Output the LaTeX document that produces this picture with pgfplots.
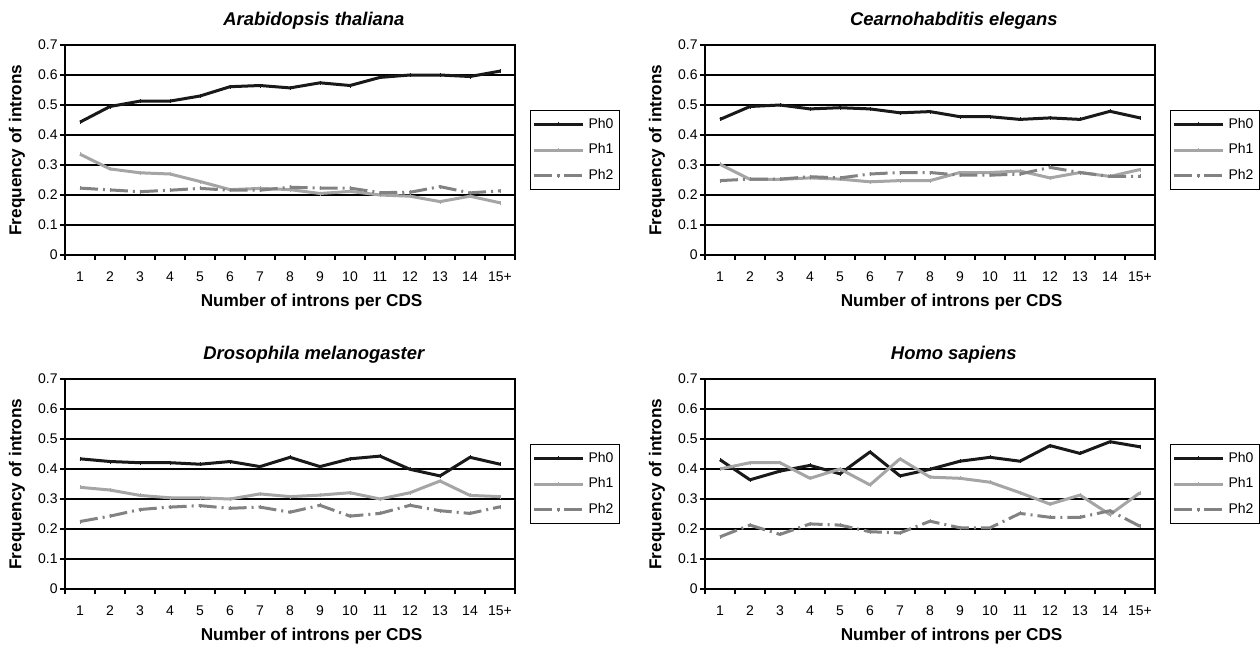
\documentclass[border=0pt]{standalone}
\usepackage{fontspec}
\setmainfont{Liberation Sans}
\usepackage{pgfplots}
\usepackage{pgfplotstable}
\pgfplotsset{compat=1.18}

\definecolor{phzero}{RGB}{25,25,25}
\definecolor{phone}{RGB}{165,165,165}
\definecolor{phtwo}{RGB}{130,130,130}

% columns: category, Ph0, Ph1, Ph2
\pgfplotstableread{
x ph0 ph1 ph2
1 0.443 0.336 0.223
2 0.495 0.287 0.217
3 0.513 0.274 0.211
4 0.513 0.270 0.216
5 0.530 0.245 0.222
6 0.561 0.218 0.216
7 0.565 0.222 0.216
8 0.557 0.218 0.226
9 0.574 0.205 0.223
10 0.565 0.212 0.223
11 0.592 0.200 0.208
12 0.600 0.196 0.209
13 0.600 0.178 0.228
14 0.595 0.196 0.207
15 0.613 0.174 0.214
}\arabidopsis
\pgfplotstableread{
x ph0 ph1 ph2
1 0.452 0.302 0.248
2 0.495 0.252 0.253
3 0.500 0.252 0.253
4 0.487 0.257 0.261
5 0.491 0.253 0.257
6 0.487 0.244 0.270
7 0.474 0.248 0.275
8 0.478 0.248 0.275
9 0.461 0.275 0.266
10 0.461 0.275 0.266
11 0.452 0.280 0.270
12 0.457 0.257 0.292
13 0.452 0.275 0.275
14 0.479 0.262 0.262
15 0.457 0.285 0.262
}\elegans
\pgfplotstableread{
x ph0 ph1 ph2
1 0.434 0.339 0.225
2 0.425 0.330 0.243
3 0.421 0.312 0.265
4 0.421 0.304 0.273
5 0.416 0.304 0.278
6 0.425 0.300 0.269
7 0.408 0.317 0.273
8 0.439 0.308 0.256
9 0.408 0.313 0.279
10 0.434 0.321 0.243
11 0.443 0.300 0.252
12 0.399 0.321 0.279
13 0.377 0.360 0.261
14 0.439 0.312 0.252
15 0.416 0.308 0.274
}\drosophila
\pgfplotstableread{
x ph0 ph1 ph2
1 0.431 0.400 0.174
2 0.364 0.421 0.213
3 0.393 0.421 0.182
4 0.412 0.369 0.217
5 0.384 0.400 0.213
6 0.457 0.347 0.191
7 0.377 0.434 0.187
8 0.399 0.373 0.226
9 0.426 0.369 0.204
10 0.439 0.356 0.204
11 0.426 0.321 0.252
12 0.478 0.283 0.239
13 0.452 0.313 0.239
14 0.491 0.248 0.261
15 0.474 0.321 0.209
}\homo

\pgfplotsset{
  panel/.style={
    scale only axis, width=225pt, height=105pt,
    xmin=0.5, xmax=15.5, ymin=0, ymax=0.7,
    xtick={1,...,15},
    xticklabels={1,2,3,4,5,6,7,8,9,10,11,12,13,14,15+},
    every major x tick/.style={draw=none},
    minor xtick={0.5,1.5,...,15.5},
    ytick={0,0.1,0.2,0.3,0.4,0.5,0.6,0.7},
    yticklabels={0,0.1,0.2,0.3,0.4,0.5,0.6,0.7},
    tick align=outside, tick pos=left,
    major tick length=2.5pt, minor tick length=2.5pt,
    every tick/.style={black, line width=0.6pt},
    ymajorgrids, grid style={black, line width=0.6pt},
    axis line style={black, line width=0.75pt},
    tick label style={font=\fontsize{7}{8}\selectfont},
    xticklabel style={anchor=base, yshift=-10.5pt},
    yticklabel style={anchor=east, inner sep=0pt, xshift=-1pt},
    xlabel={Number of introns per CDS},
    ylabel={Frequency of introns},
    xlabel style={at={(axis description cs:0.548,-0.222)}, anchor=center,
                  font=\fontsize{8.6}{10}\selectfont\bfseries},
    ylabel style={at={(axis description cs:-0.1067,0.5)}, anchor=center,
                  font=\fontsize{8.6}{10}\selectfont\bfseries},
    title style={at={(axis description cs:0.553,1.114)}, anchor=center, yshift=-6pt,
                 font=\fontsize{9.2}{10}\selectfont\bfseries\itshape},
    legend style={at={(axis description cs:1,0.5)}, xshift=7.5pt, anchor=west,
                  draw=black, line width=0.6pt, fill=white,
                  font=\fontsize{7}{8}\selectfont,
                  inner xsep=1pt, inner ysep=1.5pt, row sep=2.2pt,
                  /tikz/every even column/.append style={column sep=0pt}},
    legend cell align=left,
  },
  legline/.style={legend image code/.code={%
      \draw[mark repeat=2,mark phase=2,##1]
        plot coordinates {(0pt,0pt) (12.25pt,0pt) (24.5pt,0pt)};}},
  ph0/.style={phzero, line width=1.5pt, line join=round, legline,
              mark=|, mark size=1pt, mark options={solid, line width=0.5pt}},
  ph1/.style={phone, line width=1.5pt, line join=round, legline,
              mark=|, mark size=1pt, mark options={solid, line width=0.5pt}},
  ph2/.style={phtwo, line width=1.5pt, line join=round, legline,
              dash pattern=on 9pt off 2.5pt on 1pt off 2.5pt,
              mark=|, mark size=1pt, mark options={solid, line width=0.5pt}},
}

\begin{document}
\begin{tikzpicture}
\useasboundingbox (0pt,0pt) rectangle (630pt,-324.5pt);

\begin{axis}[panel, at={(32.5pt,-127.5pt)}, anchor=south west,
  title={Arabidopsis thaliana}]
  \addplot[ph0] table[x=x, y=ph0] {\arabidopsis};
  \addlegendentry{Ph0}
  \addplot[ph1] table[x=x, y=ph1] {\arabidopsis};
  \addlegendentry{Ph1}
  \addplot[ph2] table[x=x, y=ph2] {\arabidopsis};
  \addlegendentry{Ph2}
\end{axis}

\begin{axis}[panel, at={(352.5pt,-127.5pt)}, anchor=south west,
  title={Cearnohabditis elegans}]
  \addplot[ph0] table[x=x, y=ph0] {\elegans};
  \addlegendentry{Ph0}
  \addplot[ph1] table[x=x, y=ph1] {\elegans};
  \addlegendentry{Ph1}
  \addplot[ph2] table[x=x, y=ph2] {\elegans};
  \addlegendentry{Ph2}
\end{axis}

\begin{axis}[panel, at={(32.5pt,-294.5pt)}, anchor=south west,
  title={Drosophila melanogaster}]
  \addplot[ph0] table[x=x, y=ph0] {\drosophila};
  \addlegendentry{Ph0}
  \addplot[ph1] table[x=x, y=ph1] {\drosophila};
  \addlegendentry{Ph1}
  \addplot[ph2] table[x=x, y=ph2] {\drosophila};
  \addlegendentry{Ph2}
\end{axis}

\begin{axis}[panel, at={(352.5pt,-294.5pt)}, anchor=south west,
  title={Homo sapiens}]
  \addplot[ph0] table[x=x, y=ph0] {\homo};
  \addlegendentry{Ph0}
  \addplot[ph1] table[x=x, y=ph1] {\homo};
  \addlegendentry{Ph1}
  \addplot[ph2] table[x=x, y=ph2] {\homo};
  \addlegendentry{Ph2}
\end{axis}
\end{tikzpicture}
\end{document}
